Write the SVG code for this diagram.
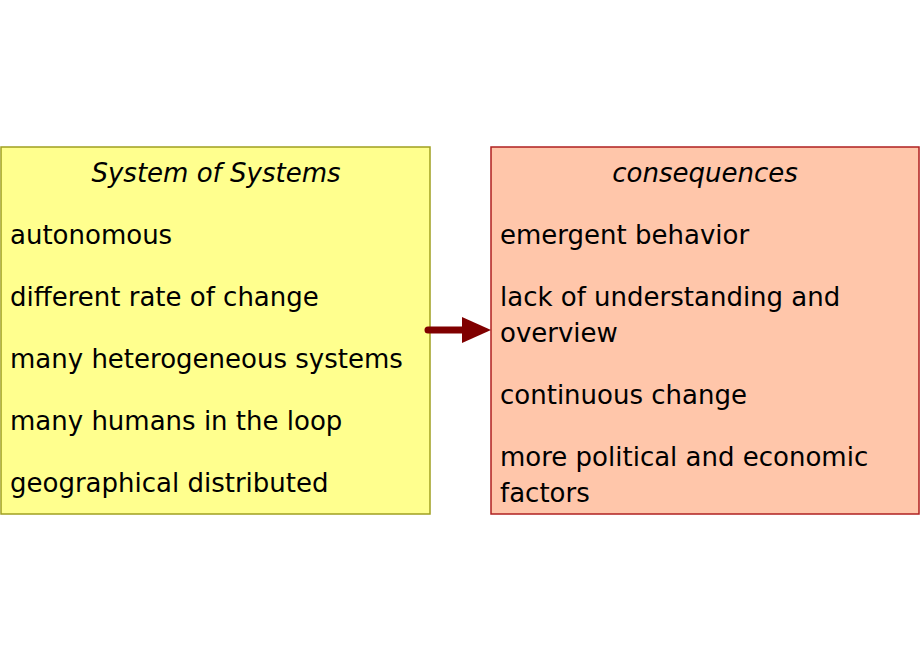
<svg xmlns="http://www.w3.org/2000/svg" width="920" height="660" viewBox="0 0 920 660">
<style>
text{font-family:"DejaVu Sans",Verdana,sans-serif;font-size:26px;fill:#000}
.t{font-style:italic;text-anchor:middle}
</style>
<rect width="920" height="660" fill="#fff"/>
<g id="sos">
<rect x="1" y="147" width="429" height="367" fill="#ffff8e" stroke="#a0a020" stroke-width="1.5"/>
<text class="t" x="216" y="182">System of Systems</text>
<text x="10" y="244">autonomous</text>
<text x="10" y="306">different rate of change</text>
<text x="10" y="368">many heterogeneous systems</text>
<text x="10" y="430">many humans in the loop</text>
<text x="10" y="492">geographical distributed</text>
</g>
<g id="consequences">
<rect x="491" y="147" width="428" height="367" fill="#ffc6aa" stroke="#b02020" stroke-width="1.5"/>
<text class="t" x="705" y="182">consequences</text>
<text x="500" y="244">emergent behavior</text>
<text x="500" y="306">lack of understanding and</text>
<text x="500" y="342">overview</text>
<text x="500" y="404">continuous change</text>
<text x="500" y="466">more political and economic</text>
<text x="500" y="502">factors</text>
</g>
<g id="connectors">
<line x1="428" y1="330" x2="466" y2="330" stroke="#800000" stroke-width="7" stroke-linecap="round"/>
<polygon points="462,317 491,330 462,343" fill="#800000"/>
</g>
</svg>
